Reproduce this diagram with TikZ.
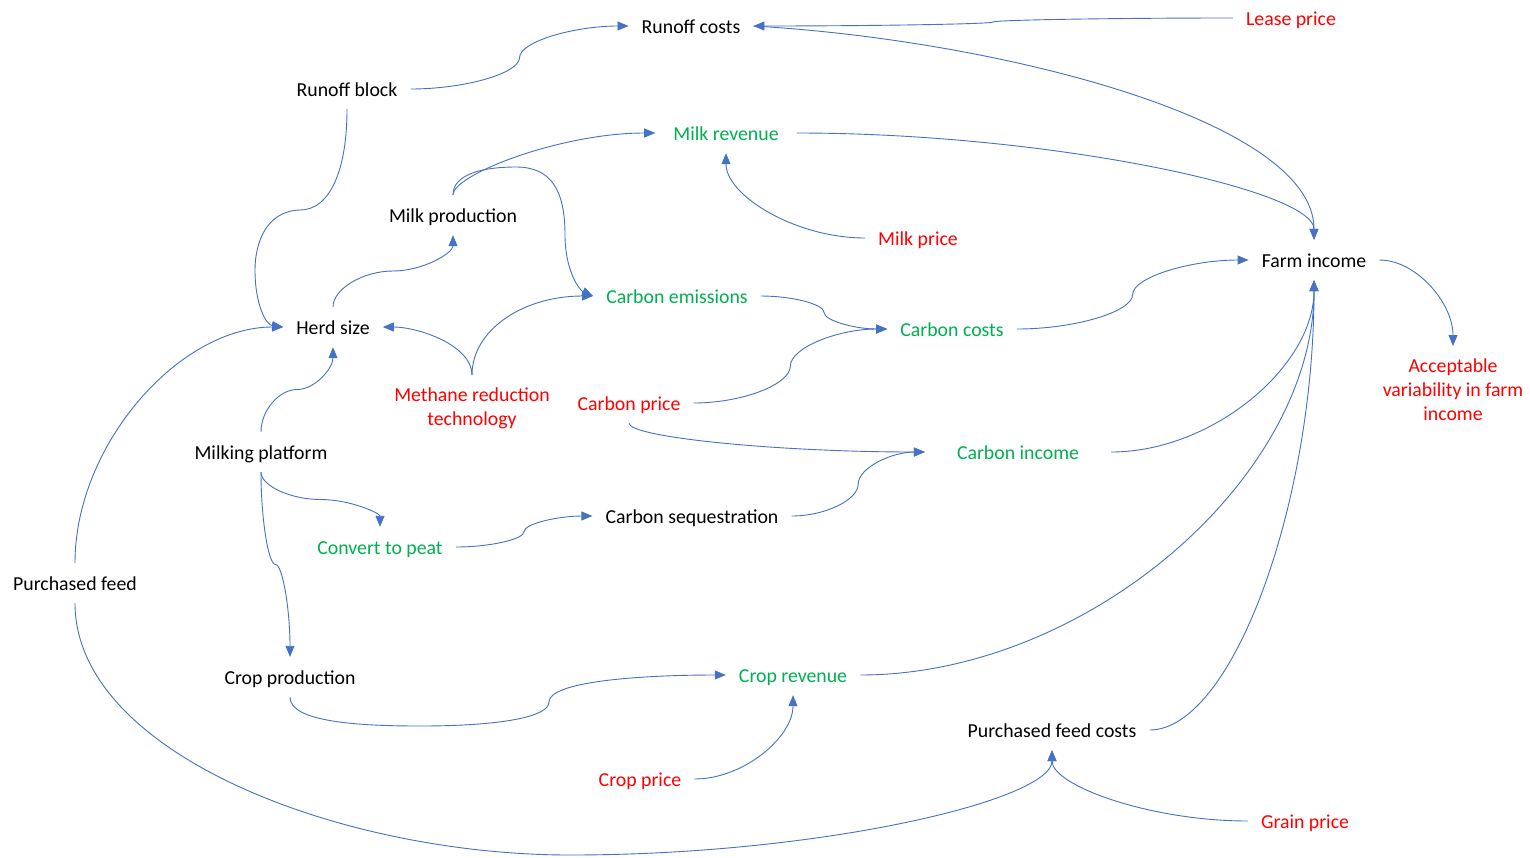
\documentclass[tikz,border=0pt]{standalone}
\usepackage{fontspec}
\setmainfont{Carlito}
\usetikzlibrary{arrows.meta,calc}
\definecolor{linkblue}{HTML}{4472C4}
\definecolor{driverred}{HTML}{FF0000}
\definecolor{outgreen}{HTML}{00B050}

\tikzset{
  % Office-style curved connectors
  hh/.style={to path={let \p1=(\tikztostart), \p2=(\tikztotarget) in
    .. controls ({0.75*\x1+0.25*\x2},\y1) and ({0.5*\x1+0.5*\x2},{0.75*\y1+0.25*\y2})
    .. ({0.5*\x1+0.5*\x2},{0.5*\y1+0.5*\y2})
    .. controls ({0.5*\x1+0.5*\x2},{0.25*\y1+0.75*\y2}) and ({0.25*\x1+0.75*\x2},\y2)
    .. (\tikztotarget) \tikztonodes}},
  vv/.style={to path={let \p1=(\tikztostart), \p2=(\tikztotarget) in
    .. controls (\x1,{0.75*\y1+0.25*\y2}) and ({0.75*\x1+0.25*\x2},{0.5*\y1+0.5*\y2})
    .. ({0.5*\x1+0.5*\x2},{0.5*\y1+0.5*\y2})
    .. controls ({0.25*\x1+0.75*\x2},{0.5*\y1+0.5*\y2}) and (\x2,{0.25*\y1+0.75*\y2})
    .. (\tikztotarget) \tikztonodes}},
  hv/.style={to path={let \p1=(\tikztostart), \p2=(\tikztotarget) in
    .. controls ({0.5*\x1+0.5*\x2},\y1) and (\x2,{0.5*\y1+0.5*\y2})
    .. (\tikztotarget) \tikztonodes}},
  vh/.style={to path={let \p1=(\tikztostart), \p2=(\tikztotarget) in
    .. controls (\x1,{0.5*\y1+0.5*\y2}) and ({0.5*\x1+0.5*\x2},\y2)
    .. (\tikztotarget) \tikztonodes}},
  conn/.style={draw=linkblue, line width=0.9pt, -{Triangle[length=11pt,width=9pt]}},
  lbl/.style={inner xsep=13pt, inner ysep=0pt, minimum height=40pt,
    text height=16pt, text depth=2pt, font=\fontsize{19.8pt}{24pt}\selectfont},
  multi/.style={inner xsep=13pt, inner ysep=12.5pt, align=center,
    font=\fontsize{19.8pt}{24pt}\selectfont},
  plain/.style={lbl, text=black},
  driver/.style={lbl, text=driverred},
  outcome/.style={lbl, text=outgreen},
}

\begin{document}
\begin{tikzpicture}[x=1pt,y=-1pt]
\fill[white] (0,0) rectangle (1530,857);
\useasboundingbox (0,0) rectangle (1530,857);

% variables
\node[plain]   (rc)     at (691,26)  {Runoff costs};
\node[driver]  (lease)  at (1291,18) {Lease price};
\node[plain]   (rb)     at (347,89)  {Runoff block};
\node[outcome, inner xsep=18pt] (mrev) at (726,133) {Milk revenue};
\node[plain]   (mprod)  at (453,215) {Milk production};
\node[driver]  (mprice) at (918,238) {Milk price};
\node[plain]   (farm)   at (1314,260) {Farm income};
\node[outcome] (cem)    at (677,296) {Carbon emissions};
\node[plain]   (herd)   at (333,327) {Herd size};
\node[outcome] (ccost)  at (952,329) {Carbon costs};
\node[multi, text=driverred, anchor=north] (accept) at (1453,346) {Acceptable\\variability in farm\\income};
\node[multi, text=driverred, anchor=north] (meth) at (472,375) {Methane reduction\\technology};
\node[driver]  (cprice) at (629,403) {Carbon price};
\node[plain]   (milk)   at (261,452) {Milking platform};
\node[outcome, inner xsep=32pt] (cinc) at (1018,452) {Carbon income};
\node[plain]   (cseq)   at (692,516) {Carbon sequestration};
\node[outcome] (peat)   at (380,547) {Convert to peat};
\node[plain]   (pfeed)  at (75,583)  {Purchased feed};
\node[plain]   (cprod)  at (290,677) {Crop production};
\node[outcome] (crev)   at (793,675) {Crop revenue};
\node[plain]   (pfc)    at (1052,730) {Purchased feed costs};
\node[driver]  (crprice) at (640,779) {Crop price};
\node[driver]  (grain)  at (1305,821) {Grain price};

% influences
\draw[conn] (rb.east) to[hh] (rc.west);
\draw[conn] (lease.west) to[hh] (rc.east);
\draw[conn] (rc.east) .. controls +(243,14) and +(0,-120) .. (farm.north);
\draw[conn] (mrev.east) .. controls +(252,0) and +(0,-50) .. (farm.north);
\draw[conn] (mprod.north) .. controls +(0,-20) and +(-95,0) .. (mrev.west);
\draw[conn] (mprod.north) .. controls +(0,-20) and +(-35,0) .. (516,167)
            .. controls +(35,0) and +(0,-45) .. (565,235)
            .. controls +(0,35) and +(-14,-6) .. (cem.west);
\draw[conn] (mprice.west) to[hv] (mrev.south);
\draw[conn] (herd.north) to[vv] (mprod.south);
\draw[conn] (rb.south) .. controls +(0,61) and +(30,0) .. (300,210)
            .. controls +(-35,1) and +(0,-25) .. (255,270)
            .. controls +(0,35) and +(-17,-2) .. (herd.west);
\draw[conn] (pfeed.north) to[vh] (herd.west);
\draw[conn] (meth.north) .. controls +(0,-30) and +(35,0) .. (herd.east);
\draw[conn] (meth.north) .. controls +(0,-45) and +(-70,0) .. (cem.west);
\draw[conn] (milk.north) to[vv] (herd.south);
\draw[conn] (milk.south) to[vv] (peat.north);
\draw[conn] (milk.south) to[vv] (cprod.north);
\draw[conn] (peat.east) to[hh] (cseq.west);
\draw[conn] (cem.east) to[hh] (ccost.west);
\draw[conn] (cprice.east) to[hh] (ccost.west);
\draw[conn] (ccost.east) to[hh] (farm.west);
\draw[conn] (cprice.south) .. controls +(0,14) and +(-148,0) .. (cinc.west);
\draw[conn] (cseq.east) to[hh] (cinc.west);
\draw[conn] (cinc.east) to[hv] (farm.south);
\draw[conn] (crev.east) to[hv] (farm.south);
\draw[conn] (pfc.east) to[hv] (farm.south);
\draw[conn] (cprod.south) .. controls +(0,25) and +(-60,0) .. (420,726)
            .. controls +(80,0) and +(0,15) .. (549,702)
            .. controls +(0,-20) and +(-90,0) .. (crev.west);
\draw[conn] (crprice.east) to[hv] (crev.south);
\draw[conn] (pfeed.south) .. controls +(0,150) and +(-230,0) .. (570,855)
            .. controls +(250,0) and +(0,50) .. (pfc.south);
\draw[conn] (grain.west) to[hv] (pfc.south);
\draw[conn] (farm.east) to[hv] (accept.north);
\end{tikzpicture}
\end{document}
